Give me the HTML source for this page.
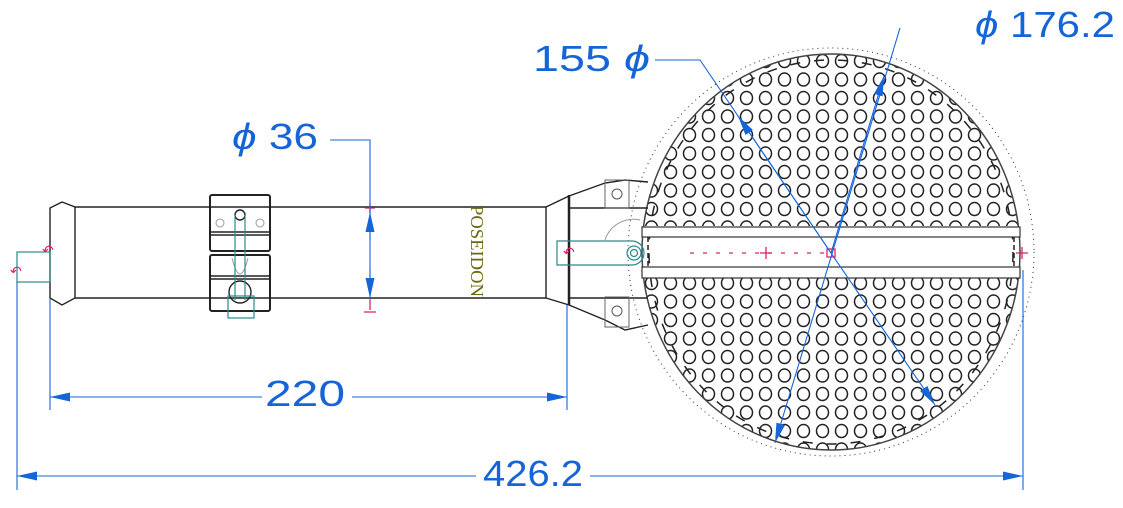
<!DOCTYPE html>
<html><head><meta charset="utf-8"><style>
html,body{margin:0;padding:0;background:#fff;}
svg{display:block}
</style></head><body>
<svg width="1123" height="508" viewBox="0 0 1123 508" xmlns="http://www.w3.org/2000/svg" font-family="Liberation Sans, sans-serif">
<defs>
<pattern id="holes" x="642" y="52" width="19" height="18.5" patternUnits="userSpaceOnUse">
<ellipse cx="9.5" cy="9" rx="6" ry="6.5" fill="none" stroke="#222" stroke-width="1.5"/>
</pattern>
<clipPath id="sph"><ellipse cx="831" cy="252" rx="189" ry="198"/></clipPath>
<marker id="ar" viewBox="0 0 20 9" refX="20" refY="4.5" markerWidth="20" markerHeight="9" orient="auto-start-reverse" markerUnits="userSpaceOnUse"><path d="M0,0 L20,4.5 L0,9z" fill="#1565d8"/></marker>
</defs>

<!-- sphere -->
<ellipse cx="831" cy="252" rx="203" ry="204" fill="none" stroke="#333" stroke-width="1" stroke-dasharray="1,4"/>
<g clip-path="url(#sph)">
<rect x="640" y="50" width="385" height="180" fill="url(#holes)"/>
<rect x="640" y="277" width="385" height="180" fill="url(#holes)"/>
<rect x="640" y="226" width="385" height="52" fill="#fff"/>
</g>
<ellipse cx="831" cy="252" rx="189" ry="198" fill="none" stroke="#444" stroke-width="1.5"/>
<ellipse cx="831" cy="252" rx="182" ry="192" fill="none" stroke="#222" stroke-width="1.5" stroke-dasharray="10,14"/>
<rect x="642" y="227" width="378" height="10" fill="#fff" stroke="#333" stroke-width="1.2"/>
<rect x="642" y="267" width="378" height="11" fill="#fff" stroke="#333" stroke-width="1.2"/>
<line x1="648" y1="237" x2="648" y2="267" stroke="#222" stroke-width="1.5" stroke-dasharray="5,3"/>
<line x1="1014" y1="237" x2="1014" y2="267" stroke="#222" stroke-width="1.5" stroke-dasharray="5,3"/>

<!-- tube -->
<g fill="none" stroke="#222" stroke-width="1.4">
<path d="M50,208 L62,202 L75,207 L75,298 L62,305 L50,298 Z"/>
<line x1="75" y1="207" x2="546" y2="207"/>
<line x1="75" y1="298" x2="546" y2="298"/>
<line x1="546" y1="207" x2="546" y2="298"/>
<path d="M546,207 L569,196 M546,298 L569,305"/>
<rect x="210" y="195" width="60" height="56" rx="2" stroke-width="2"/>
<rect x="210" y="255" width="60" height="56" rx="2" stroke-width="2"/>
<line x1="210" y1="232" x2="270" y2="232"/><line x1="210" y1="235" x2="270" y2="235"/>
<line x1="210" y1="276" x2="270" y2="276"/><line x1="210" y1="279" x2="270" y2="279"/>
<circle cx="240" cy="215" r="5"/>
<circle cx="240" cy="292" r="11"/>
<line x1="569" y1="195" x2="569" y2="305" stroke-width="2.5"/>
<path d="M569,196 L605,183 L625,180 L648,182 M569,305 L605,320 L625,330 L648,325"/>
<line x1="569" y1="208" x2="648" y2="208"/><line x1="569" y1="298" x2="648" y2="298"/>
<rect x="605" y="180" width="24" height="28" stroke="#666" stroke-width="1"/>
<rect x="605" y="297" width="24" height="30" stroke="#666" stroke-width="1"/>
<circle cx="617" cy="194" r="5" stroke="#555" stroke-width="1"/>
<circle cx="617" cy="311" r="5" stroke="#555" stroke-width="1"/>
</g>
<g fill="none" stroke="#999" stroke-width="1">
<circle cx="220" cy="223" r="4"/><circle cx="260" cy="223" r="4"/>
<path d="M232,258 Q240,290 248,258"/>
<path d="M605,240 A30,30 0 0 1 640,220"/>
</g>
<g fill="none" stroke="#2a8a8a" stroke-width="1.2">
<rect x="17" y="252" width="33" height="30"/>
<rect x="228" y="296" width="26" height="22"/>
<line x1="235" y1="215" x2="235" y2="300"/><line x1="245" y1="215" x2="245" y2="300"/>
<path d="M557,241 L632,241 A12,12 0 0 1 632,265 L557,265 Z"/>
<circle cx="634" cy="253" r="7"/><circle cx="634" cy="253" r="3.5"/>
</g>
<text x="0" y="0" style="font-family:'Liberation Serif',serif" font-size="18" fill="#6b6a10" transform="translate(471,205) rotate(90)" textLength="92" lengthAdjust="spacingAndGlyphs">POSEIDON</text>

<!-- red marks -->
<g stroke="#e0206a" stroke-width="1.3" fill="none">
<path d="M365,208 h10 M370,203 v10"/>
<path d="M370,300 v10 M364,312 h12"/>
<path d="M760,253 h12 M766,247 v12"/>
<path d="M1016,253 h12 M1022,247 v12"/>
<line x1="690" y1="253" x2="828" y2="253" stroke-dasharray="4,9"/>
<rect x="827" y="249" width="8" height="8"/>
<text x="10" y="276" font-size="14" fill="#e0206a" stroke="none">&#x21B6;</text>
<text x="42" y="255" font-size="14" fill="#e0206a" stroke="none">&#x21B6;</text>
<text x="563" y="257" font-size="14" fill="#e0206a" stroke="none">&#x21B6;</text>
</g>

<!-- dimensions -->
<g stroke="#1565d8" stroke-width="1.1" fill="none">
<line x1="17" y1="282" x2="17" y2="490"/>
<line x1="50" y1="298" x2="50" y2="410"/>
<line x1="567" y1="305" x2="567" y2="410"/>
<line x1="1023" y1="270" x2="1023" y2="490"/>
<line x1="50" y1="397" x2="262" y2="397" marker-start="url(#ar)"/>
<line x1="352" y1="397" x2="567" y2="397" marker-end="url(#ar)"/>
<line x1="17" y1="476" x2="476" y2="476" marker-start="url(#ar)"/>
<line x1="590" y1="476" x2="1023" y2="476" marker-end="url(#ar)"/>
<path d="M330,140 L370,140 L370,300"/>
<line x1="370" y1="212" x2="370" y2="240" marker-start="url(#ar)"/>
<line x1="370" y1="270" x2="370" y2="298" marker-end="url(#ar)"/>
<path d="M655,60 L700,60 L831,253 L935,405" marker-end="url(#ar)"/>
<line x1="831" y1="253" x2="738" y2="116" marker-end="url(#ar)"/>
<path d="M900,28 L775,443" marker-end="url(#ar)"/>
<line x1="831" y1="253" x2="884" y2="76" marker-end="url(#ar)"/>
</g>
<g fill="#1565d8" font-size="36">
<text x="265" y="406" textLength="80" lengthAdjust="spacingAndGlyphs">220</text>
<text x="483" y="486" textLength="100" lengthAdjust="spacingAndGlyphs">426.2</text>
<text x="232" y="149" textLength="86" lengthAdjust="spacingAndGlyphs"><tspan font-style="italic">ϕ</tspan> 36</text>
<text x="533" y="71" textLength="117" lengthAdjust="spacingAndGlyphs">155 <tspan font-style="italic">ϕ</tspan></text>
<text x="975" y="37" textLength="140" lengthAdjust="spacingAndGlyphs"><tspan font-style="italic">ϕ</tspan> 176.2</text>
</g>
</svg>
</body></html>
